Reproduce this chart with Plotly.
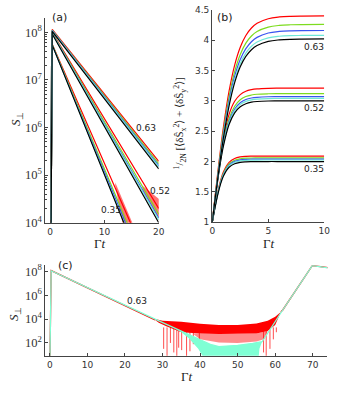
import plotly.graph_objects as go

# ---- data ----
colors = ["#ff0000", "#7ddc1f", "#3a55f0", "#6fe8d8", "#000000"]  # red, green, blue, cyan, black

# panel (a): S_perp vs Gamma t (log)
ta = [0, 0.4, 20]
a063 = [[1, 1.15e8, 1.95e5], [1, 1.12e8, 1.74e5], [1, 1.10e8, 1.58e5], [1, 1.08e8, 1.48e5], [1, 1.05e8, 1.35e5]]
a052 = [[1, 1.0e8, 2.0e4], [1, 9.8e7, 1.5e4], [1, 9.6e7, 1.26e4], [1, 9.4e7, 1.15e4], [1, 9.2e7, 1.0e4]]
ta35 = [0, 0.3, 20]
a035 = [[1, 6.0e7, 4.4e2], [1, 5.9e7, 2.6e2], [1, 5.8e7, 2.0e2], [1, 5.8e7, 1.6e2], [1, 5.8e7, 1.5e2]]
wedge35_t = [12.0, 15.3, 13.4, 12.0]
wedge35_s = [7.0e4, 9.0e3, 9.0e3, 6.0e4]
wedge52_t = [17.0, 20.3, 20.3, 17.0]
wedge52_s = [6.0e4, 3.0e4, 1.1e4, 5.0e4]

# panel (b): variance vs Gamma t
tb = [0, 0.25, 0.5, 0.75, 1, 1.5, 2, 2.5, 3, 3.5, 4, 5, 6, 7, 8, 10]
b063 = [
    [1, 1.423, 1.833, 2.219, 2.571, 3.159, 3.589, 3.884, 4.077, 4.201, 4.278, 4.354, 4.383, 4.394, 4.398, 4.40],
    [1, 1.406, 1.798, 2.168, 2.506, 3.070, 3.483, 3.765, 3.951, 4.069, 4.143, 4.216, 4.244, 4.254, 4.258, 4.26],
    [1, 1.393, 1.774, 2.133, 2.460, 3.007, 3.407, 3.681, 3.860, 3.975, 4.046, 4.118, 4.144, 4.154, 4.158, 4.16],
    [1, 1.383, 1.754, 2.104, 2.423, 2.956, 3.346, 3.613, 3.787, 3.900, 3.969, 4.039, 4.065, 4.075, 4.078, 4.08],
    [1, 1.376, 1.740, 2.082, 2.396, 2.918, 3.300, 3.562, 3.733, 3.843, 3.911, 3.980, 4.005, 4.015, 4.018, 4.02],
]
b052 = [
    [1, 1.404, 1.782, 2.116, 2.392, 2.778, 2.993, 3.103, 3.159, 3.185, 3.198, 3.207, 3.209, 3.21, 3.21, 3.21],
    [1, 1.388, 1.750, 2.071, 2.336, 2.706, 2.911, 3.018, 3.071, 3.096, 3.109, 3.117, 3.119, 3.12, 3.12, 3.12],
    [1, 1.379, 1.733, 2.045, 2.304, 2.665, 2.866, 2.970, 3.022, 3.047, 3.059, 3.068, 3.069, 3.07, 3.07, 3.07],
    [1, 1.373, 1.722, 2.030, 2.285, 2.641, 2.839, 2.942, 2.992, 3.017, 3.029, 3.038, 3.039, 3.04, 3.04, 3.04],
    [1, 1.366, 1.708, 2.010, 2.260, 2.609, 2.803, 2.903, 2.953, 2.978, 2.989, 2.998, 2.999, 3.0, 3.0, 3.0],
]
b035 = [
    [1, 1.267, 1.504, 1.692, 1.831, 1.986, 2.051, 2.076, 2.085, 2.088, 2.089, 2.09, 2.09, 2.09, 2.09, 2.09],
    [1, 1.260, 1.490, 1.673, 1.808, 1.959, 2.022, 2.046, 2.055, 2.058, 2.059, 2.06, 2.06, 2.06, 2.06, 2.06],
    [1, 1.255, 1.480, 1.660, 1.792, 1.941, 2.003, 2.026, 2.035, 2.038, 2.039, 2.04, 2.04, 2.04, 2.04, 2.04],
    [1, 1.251, 1.474, 1.651, 1.781, 1.928, 1.988, 2.012, 2.020, 2.023, 2.024, 2.025, 2.025, 2.025, 2.025, 2.025],
    [1, 1.245, 1.462, 1.635, 1.762, 1.905, 1.964, 1.987, 1.995, 1.998, 1.999, 2.0, 2.0, 2.0, 2.0, 2.0],
]

# panel (c): long time S_perp, 0.63
red_t = [0, 0.35, 28, None, 61.5, 62, 69.9, 75]
red_s = [1, 1.15e8, 8.5e3, None, 4.0e4, 5.8e4, 3.1e8, 1.85e8]
redband_t = [27.5, 30, 35, 40, 45, 50, 55, 58, 60, 61.5, 61.5, 60, 58, 55, 50, 45, 40, 35, 31, 29, 27.5]
redband_s = [1.12e4, 7.1e3, 6.0e3, 4.0e3, 3.2e3, 3.2e3, 4.2e3, 7.1e3, 1.6e4, 4.0e4,
             4.0e4, 3.2e3, 1.0e3, 6.3e2, 5.6e2, 5.6e2, 6.3e2, 7.9e2, 2.5e3, 5.0e3, 1.12e4]
redhatch_t = [38, 45, 50, 55, 57, 58, 57, 55, 50, 45, 40, 38]
redhatch_s = [6.3e2, 5.6e2, 5.6e2, 6.3e2, 8.0e2, 1.0e3, 2.0e2, 1.3e2, 1.0e2, 1.1e2, 2.0e2, 6.3e2]
spike_t = [30.3, 31.2, 32.1, 33.0, 33.8, 34.3, 35.1, 36.4, 37.3, 38.2, 39.8, 56.9, 57.6, 58.6, 59.5, 60.3]
spike_low = [32, 8, 100, 16, 8, 40, 25, 8, 20, 79, 158, 16, 8, 32, 200, 790]
cyan_t = [0, 0.35, 28.3, 33, 36, 40, 43, 45, 50, 54, 56.5, 62, 69.9, 75]
cyan_s = [1, 1.12e8, 8.9e3, 1.82e3, 6.6e2, 1.78e2, 71, 50, 63, 93, 126, 5.75e4, 3.09e8, 1.8e8]
cfill_t = [33, 36, 40, 43, 45, 50, 54, 56.5, 55.8, 55.5, 41.5, 39.5, 37, 35, 33]
cfill_s = [1.82e3, 6.6e2, 1.78e2, 71, 50, 63, 93, 126, 32, 3, 3, 32, 2.5e2, 7.9e2, 1.82e3]

fig = go.Figure()


def line(x, y, c, ax, w=1.2, shape="linear"):
    fig.add_trace(go.Scatter(x=x, y=y, mode="lines", line=dict(color=c, width=w, shape=shape),
                             xaxis="x" + ax, yaxis="y" + ax, showlegend=False, hoverinfo="skip"))


def patch(x, y, c, ax):
    fig.add_trace(go.Scatter(x=x, y=y, mode="lines", fill="toself", fillcolor=c, line=dict(width=0),
                             xaxis="x" + ax, yaxis="y" + ax, showlegend=False, hoverinfo="skip"))


# (a)
patch(wedge35_t, wedge35_s, "rgba(255,0,0,0.55)", "")
patch(wedge52_t, wedge52_s, "rgba(255,0,0,0.55)", "")
for grp, tt in [(a035, ta35), (a052, ta), (a063, ta)]:
    for vals, c in zip(grp, colors):
        line(tt, vals, c, "")

# (b)
for grp in [b035, b052, b063]:
    for vals, c in zip(grp, colors):
        line(tb, vals, c, "2", shape="spline")

# (c)
patch(redband_t, redband_s, "#ff0000", "3")
patch(redhatch_t, redhatch_s, "rgba(255,0,0,0.45)", "3")
sx, sy = [], []
for t, lo in zip(spike_t, spike_low):
    sx += [t, t, None]
    sy += [2.0e3, lo, None]
line(sx, sy, "rgba(255,0,0,0.7)", "3", w=1)
line(red_t, red_s, "#ff0000", "3", w=1.3)
patch(cfill_t, cfill_s, "#7fffd4", "3")
line(cyan_t, cyan_s, "#7fffd4", "3", w=1.3)

W, H = 338, 395
axcol = "#444444"
base = dict(showline=True, linecolor=axcol, linewidth=1.3, ticks="inside", ticklen=3, tickcolor=axcol,
            showgrid=False, zeroline=False, tickfont=dict(family="DejaVu Sans", size=9, color="#333"))
logfont = dict(family="Liberation Serif", size=10, color="#333")

fig.update_layout(
    width=W, height=H, margin=dict(l=0, r=0, t=0, b=0),
    paper_bgcolor="white", plot_bgcolor="white",
    xaxis=dict(base, domain=[43.3 / W, 160 / W], anchor="y", range=[-0.9, 20], tickvals=[0, 10, 20]),
    yaxis=dict(base, domain=[1 - 224.5 / H, 1 - 13 / H], anchor="x", range=[4, 8.31],
               type="log", dtick=1, exponentformat="power", tickfont=logfont,
               minor=dict(ticks="inside", ticklen=2, tickcolor=axcol, dtick="D1")),
    xaxis2=dict(base, domain=[215 / W, 330 / W], anchor="y2", range=[0, 10], tickvals=[0, 5, 10]),
    yaxis2=dict(base, domain=[1 - 224 / H, 1 - 5 / H], anchor="x2", range=[1, 4.5], dtick=0.5),
    xaxis3=dict(base, domain=[43.3 / W, 333.3 / W], anchor="y3", range=[-1.25, 73.9], dtick=10),
    yaxis3=dict(base, domain=[1 - 361.7 / H, 1 - 268.3 / H], anchor="x3", range=[0.93, 8.52],
                type="log", dtick=2, exponentformat="power", tickfont=logfont),
)

serif = dict(family="Liberation Serif", size=13, color="#222")
sans = dict(family="DejaVu Sans", size=11, color="#222")
small = dict(family="DejaVu Sans", size=9, color="#222")
ann = []
# panel tags
for txt, px, py in [("(a)", 48, 13), ("(b)", 218, 13), ("(c)", 54, 269)]:
    ann.append(dict(text=txt, x=px / W, y=1 - py / H, xref="paper", yref="paper",
                    xanchor="left", yanchor="middle", showarrow=False, font=sans))
# axis titles
for px, py in [(100, 246), (273, 246), (189, 383)]:
    ann.append(dict(text="Γ<i>t</i>", x=px / W, y=1 - py / H, xref="paper", yref="paper",
                    xanchor="center", yanchor="middle", showarrow=False, font=serif))
for px, py in [(14, 117), (12, 318)]:
    ann.append(dict(text="<i>S</i><sub>⊥</sub>", x=px / W, y=1 - py / H, xref="paper", yref="paper",
                    xanchor="center", yanchor="middle", showarrow=False, font=serif, textangle=-90))
ann.append(dict(text="<sup>1</sup>/<sub>2N</sub> [⟨δŜ<sub>x</sub><sup>2</sup>⟩ + ⟨δŜ<sub>y</sub><sup>2</sup>⟩]",
                x=182 / W, y=1 - 122 / H, xref="paper", yref="paper", showarrow=False,
                xanchor="center", yanchor="middle",
                font=dict(family="Liberation Serif", size=11, color="#222"), textangle=-90))
# curve labels
for txt, t, v, xr, yr in [("0.63", 15.4, 5.99, "x", "y"), ("0.52", 18.0, 4.66, "x", "y"),
                          ("0.35", 9.1, 4.27, "x", "y"),
                          ("0.63", 8.0, 3.89, "x2", "y2"), ("0.52", 8.0, 2.89, "x2", "y2"),
                          ("0.35", 8.0, 1.87, "x2", "y2"), ("0.63", 19.9, 5.54, "x3", "y3")]:
    ann.append(dict(text=txt, x=t, y=v, xref=xr, yref=yr, xanchor="left", yanchor="middle",
                    showarrow=False, font=small))
fig.update_layout(annotations=ann)

fig.write_html("out.html", config={"displayModeBar": False},
               post_script="document.body.style.margin='0px';")
